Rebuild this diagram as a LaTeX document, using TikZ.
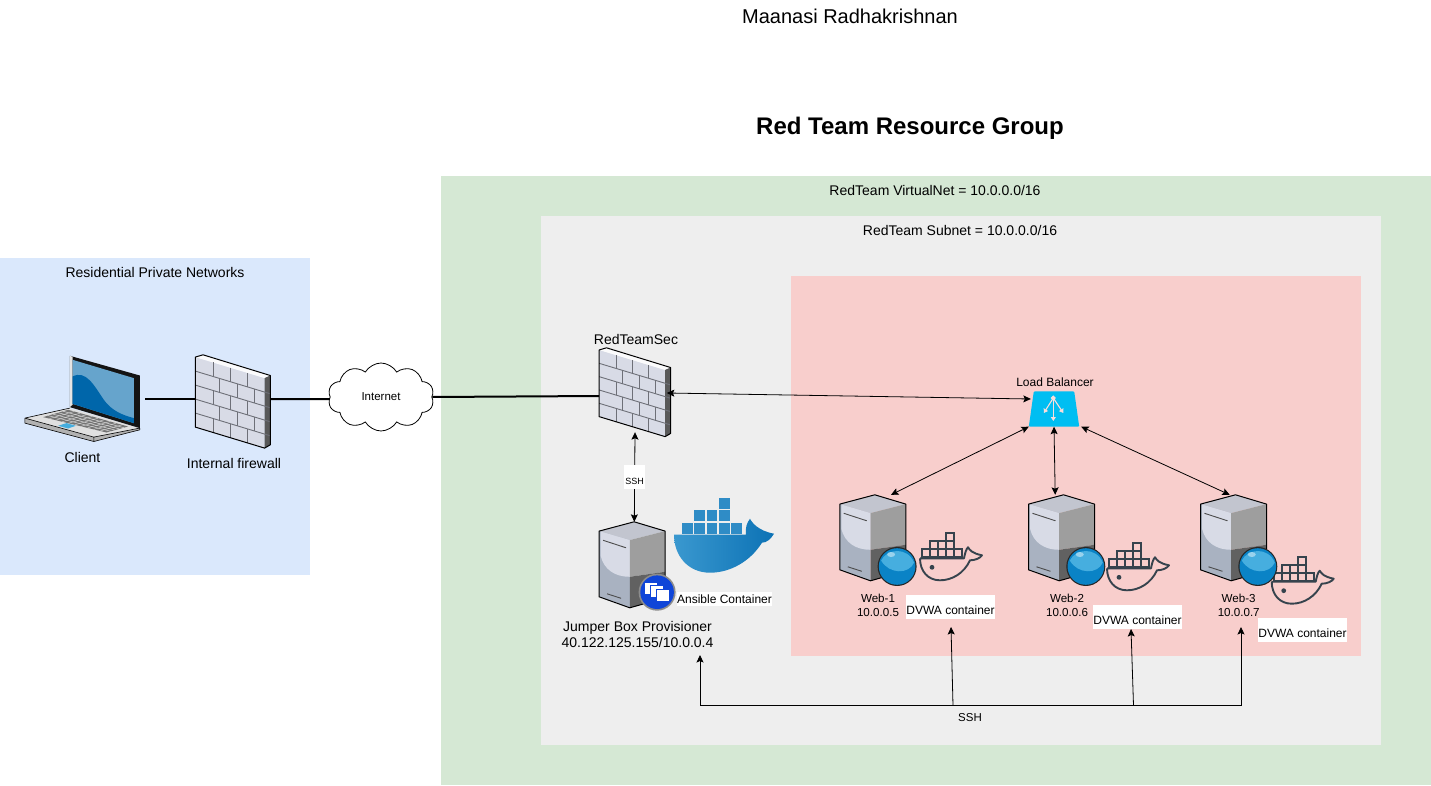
\documentclass[tikz,border=0pt]{standalone}
\usepackage{fontspec}
\setmainfont{Liberation Sans}
\usepackage{tikz}
\usetikzlibrary{arrows.meta}
\usetikzlibrary{shapes.symbols}
\definecolor{homeblue}{HTML}{DAE8FC}
\definecolor{vnetgreen}{HTML}{D5E8D4}
\definecolor{subnetgray}{HTML}{EEEEEE}
\definecolor{webpink}{HTML}{F8CECC}
\definecolor{lbcyan}{HTML}{00BEF2}
\definecolor{whaleink}{HTML}{36434D}
\definecolor{brickface}{HTML}{D8DBE6}
\definecolor{brickline}{HTML}{6E7078}
\definecolor{serverlow}{HTML}{A9B2C1}
\definecolor{balldeep}{HTML}{0A83C6}
\definecolor{balllight}{HTML}{46AEDF}
\definecolor{badgeblue}{HTML}{0F45D8}
\definecolor{whaleblock}{HTML}{2F8CC6}
\definecolor{whaleleft}{HTML}{3A98CF}
\definecolor{whaleright}{HTML}{0C72B5}
\definecolor{screenlight}{HTML}{66A4CC}
\definecolor{screendeep}{HTML}{0066AA}
\tikzset{
  txt/.style={font=\fontsize{#1}{16}\selectfont, inner sep=0pt, align=center},
  tag/.style={txt=#1, fill=white, text height=19.3pt, text depth=4.7pt},
  iconbox/.style={inner sep=0pt, minimum width=#1},
  link/.style={black, line width=.8pt, >={Stealth[length=7.5pt,width=7pt,inset=1.5pt]}},
  wire/.style={black, line width=2pt},
  pics/firewall/.style={code={
    \fill[brickface] (0,2.3) -- (69.3,23.3) -- (69.3,93.3) -- (0,72.3) -- cycle;
    \fill[white!90!brickface] (0,2.3) -- (7.7,0) -- (75,20.7) -- (69.3,23.3) -- cycle;
    \fill[black!65] (69.3,23.3) -- (75,20.7) -- (75,90) -- (69.3,93.3) -- cycle;
    \foreach \i in {1,2,3,4}
      \draw[brickline, line width=.9pt] (0,{2.3+14*\i}) -- (75,{25+14*\i});
    \foreach \i in {0,2,4}
      \foreach \x in {17.7,35,51.7}
        \draw[brickline, line width=.9pt] (\x,{2.3+14*\i+.303*\x}) -- ++(0,14);
    \foreach \i in {1,3}
      \foreach \x in {24.3,42,58.7}
        \draw[brickline, line width=.9pt] (\x,{2.3+14*\i+.303*\x}) -- ++(0,14);
    \draw[black, line width=1pt, line join=round] (0,2.3) -- (7.7,0) -- (75,20.7) -- (75,90) -- (69.3,93.3) -- (0,72.3) -- cycle;
  }},
  pics/server/.style={code={
    \fill[brickface!90!black] (35,0) -- (0,9.3) -- (30.7,18.3) -- (66,9.3) -- cycle;
    \fill[serverlow] (0,9.3) -- (30.7,18.3) -- (30.7,86) -- (0,75) -- cycle;
    \fill[brickface] (1.5,9.7) -- (30.7,18.3) -- (30.7,55) .. controls (16,55) and (5,48) .. (1.5,34) -- cycle;
    \fill[black!38] (30.7,18.3) -- (66,9.3) -- (66,50) -- (30.7,55) -- cycle;
    \fill[black!62] (30.7,55) -- (66,50) -- (66,76) -- (30.7,86) -- cycle;
    \draw[black!70, line width=.9pt] (4,18.5) -- (27,26) (8,72) -- (22,76.5);
    \draw[black, line width=1pt, line join=round] (35,0) -- (0,9.3) -- (0,75) -- (30.7,86) -- (66,76) -- (66,9.3) -- cycle;
  }},
  pics/webball/.style={code={
    \fill[black!85] (0,0) circle (19.5);
    \fill[balldeep] (0,0) circle (18.3);
    \fill[balllight] (-16,-6) .. controls (-10,-18) and (10,-20) .. (17,-4) .. controls (12,8) and (-8,8) .. (-16,-6) -- cycle;
    \fill[white!45!balllight] (-6,-12) ellipse (4 and 2.5);
  }},
  pics/jumpbadge/.style={code={
    \fill[black!45] (0,0) circle (18.5);
    \fill[badgeblue] (0,0) circle (16.8);
    \foreach \x/\y in {-13/-10,-7/-7,-1/-3}
      \draw[badgeblue, fill=white, line width=.9pt] (\x,\y) rectangle ++(13,12);
  }},
  pics/whaleline/.style={code={
    \foreach \x/\y in {2/16,10/16,18/16,26/16,34/16,10/8,18/8,26/8,26/0}
      \draw[whaleink, line width=1.7pt] (\x,\y) rectangle ++(8,8);
    \draw[whaleink, line width=1.9pt, line join=round] (0,25) -- (44,25) .. controls (45,20) and (46,16) .. (48,14) .. controls (50,17) and (52,20) .. (62,22) .. controls (60,25) and (55,27) .. (50,27) .. controls (44,40) and (32,47) .. (20,47) .. controls (8,47) and (0,38) .. (0,25);
    \fill[whaleink] (12,34) circle (2.4);
  }},
  pics/whalesolid/.style={code={
    \foreach \x/\y in {8/25,20.3/25,32.6/25,44.9/25,57.2/25,20.3/12.4,32.6/12.4,44.9/12.4,44.9/0}
      \fill[whaleblock] (\x,\y) rectangle ++(10.8,10.8);
    \shade[left color=whaleleft, right color=whaleright] (0,37) -- (72,37) .. controls (71,30) and (73,25) .. (76,21) .. controls (78,25) and (84,33) .. (100,36) .. controls (97,41) and (93,45) .. (88,45) .. controls (76,64) and (56,75) .. (36,75) .. controls (14,75) and (0,58) .. (0,37) -- cycle;
  }},
  pics/laptop/.style={code={
    \fill[black!30] (1,63.3) -- (70,82.3) -- (116,73.3) -- (116,75) -- (70,86.7) -- (1,68.3) -- cycle;
    \fill[black!12] (1,63.3) -- (46,53.3) -- (116,73.3) -- (70,82.3) -- cycle;
    \fill[black!55] (19.3,62.3) -- (44.3,55) -- (104.3,71.7) -- (82.7,77.7) -- cycle;
    \foreach \t in {.2,.4,.6,.8}
      \draw[black!15, line width=.5pt] ({19.3+25*\t},{62.3-7.3*\t}) -- ({82.7+21.6*\t},{77.7-6*\t});
    \foreach \t in {.1,.2,.3,.4,.5,.6,.7,.8,.9}
      \draw[black!15, line width=.4pt] ({19.3+63.4*\t},{62.3+15.4*\t}) -- ({44.3+60*\t},{55+16.7*\t});
    \fill[balllight] (34.3,71) -- (42.7,68.3) -- (52,71) -- (44.3,73.7) -- cycle;
    \draw[black, line width=.6pt, line join=round] (1,63.3) -- (46,53.3) (116,73.3) -- (70,82.3) (1,63.3) -- (1,68.3) -- (70,86.7) -- (116,75) -- (116,73.3) (1,63.3) -- (70,82.3) -- (70,86.7);
    \fill[black!92] (46,1) -- (116,20.7) -- (116,73.3) -- (46,52.3) -- cycle;
    \fill[black!10] (46,1) -- (48.7,2) -- (48.7,50) -- (46,52.3) -- cycle;
    \fill[screenlight] (48.7,5) -- (110,23.3) -- (110,68.3) -- (48.7,49) -- cycle;
    \fill[screendeep] (48.7,21.7) .. controls (62,15) and (70,30) .. (80,45) .. controls (88,56) and (98,60) .. (110,63.3) -- (110,68.3) -- (48.7,49) -- cycle;
  }},
}
\begin{document}
\begin{tikzpicture}[x=1pt,y=-1pt]
\useasboundingbox (0,0) rectangle (1431,786);
\fill[homeblue] (0,258) rectangle (310,575);
\fill[vnetgreen] (441,176) rectangle (1431,785);
\fill[subnetgray] (541,216) rectangle (1381,745);
\fill[webpink] (791,276) rectangle (1361,656);

\node[txt=20] (author) at (850,16) {Maanasi Radhakrishnan};
\node[txt=24, font=\fontsize{24}{28}\selectfont\bfseries] (title) at (910,128) {Red Team Resource Group};
\node[txt=14] (vnetlabel) at (935,190) {RedTeam VirtualNet = 10.0.0.0/16};
\node[txt=14] (subnetlabel) at (960,230) {RedTeam Subnet = 10.0.0.0/16};
\node[txt=14] (homelabel) at (155,272) {Residential Private Networks};

\node[iconbox=121, minimum height=92pt] (client) at (84.5,399) {};
\node[iconbox=75, minimum height=72pt] (fwa) at (233,399) {};
\node[iconbox=71.3, minimum height=72pt] (fwb) at (635,396) {};
\node[cloud, draw=black, fill=white, line width=.8pt, cloud puffs=10, cloud puff arc=120, aspect=1.55, inner sep=0pt, minimum width=106pt, minimum height=68pt, txt=11.5] (inet) at (381,397) {Internet};
\node[iconbox=66, minimum height=85pt] (jump) at (632.3,564.5) {};
\node[iconbox=66, minimum height=86pt] (weba) at (873,538) {};
\node[iconbox=66, minimum height=86pt] (webb) at (1061.7,538) {};
\node[iconbox=66, minimum height=86pt] (webc) at (1233.7,538) {};
\node[iconbox=50, minimum height=35pt] (lb) at (1054,409) {};

\pic at ([yshift=-2pt]client.north west) {laptop};
\pic at ([yshift=8pt]fwa.north west) {firewall};
\pic[scale=.952] at ([yshift=12pt]fwb.north west) {firewall};
\pic at (jump.north west) {server};
\pic at ([shift={(58,70.4)}]jump.north west) {jumpbadge};
\pic at (674,497.7) {whalesolid};
\pic at (920,533.3) {whaleline};
\pic at (1107,543.3) {whaleline};
\pic at (1271.7,556.7) {whaleline};
\foreach \web in {weba,webb,webc} {
  \pic at (\web.north west) {server};
  \pic at ([shift={(57.3,71.7)}]\web.north west) {webball};
}
\fill[lbcyan, rounded corners=1pt] (lb.south west) -- ([xshift=5pt]lb.north west) -- ([xshift=-5pt]lb.north east) -- (lb.south east) -- cycle;
\draw[draw=webpink!70!white, fill=webpink!70!white, line width=1.1pt, >={Stealth[length=4pt,width=5pt,inset=0pt]}]
  ([shift={(-.7,-11)}]lb.center) circle (1.8)
  ([shift={(-.7,-11)}]lb.center) edge[->] ++(0,23) edge[->] ++(-9.5,15) edge[->] ++(10,15);

\node[txt=14] (clientlabel) at (82.5,457) {Client};
\node[txt=14] (fwalabel) at (234,463) {Internal firewall};
\node[txt=14] (fwblabel) at (636,339) {RedTeamSec};
\node[txt=14] (jumplabel) at (637.5,634.5) {Jumper Box Provisioner\\40.122.125.155/10.0.0.4};
\node[txt=12, fill=white, minimum height=14pt, minimum width=95pt] (ansible) at (724.5,599) {Ansible Container};
\node[txt=12] (lblabel) at (1055,382) {Load Balancer};
\node[txt=11.6] (webalabel) at (878,605.7) {Web-1\\[-2pt]10.0.0.5};
\node[txt=11.6] (webblabel) at (1067,605.7) {Web-2\\[-2pt]10.0.0.6};
\node[txt=11.6] (webclabel) at (1238.7,605.7) {Web-3\\[-2pt]10.0.0.7};
\node[tag=12, minimum width=89pt] (dvwaa) at (950.5,607) {DVWA container};
\node[tag=12, minimum width=89pt] (dvwab) at (1137.5,617) {DVWA container};
\node[tag=12, minimum width=89pt] (dvwac) at (1302.5,630) {DVWA container};

\coordinate (busleft) at (700,705.5);
\coordinate (busa) at (953,705.5);
\coordinate (busb) at (1133.5,705.5);
\coordinate (busc) at (1241,705.5);
\coordinate (tipleft) at (700,655);
\coordinate (tipa) at (951,627);
\coordinate (tipb) at (1131,629);
\coordinate (tipc) at (1241,627);

\draw[wire] (client.east) -- (fwa.west);
\draw[wire] (fwa.east) -- ([yshift=-2pt]inet.west);
\draw[wire] (inet.east) -- (fwb.west);
\draw[link, <->] ([shift={(-4,-3)}]fwb.east) -- ([shift={(2,-10)}]lb.west);
\draw[link, <->] (fwb.south) -- node[tag=9, minimum width=21pt] (sshfw) {SSH} ([xshift=2pt]jump.north);
\draw[link, <->] (lb.south west) -- ([xshift=18pt]weba.north);
\draw[link, <->] (lb.south) -- ([xshift=-6.5pt]webb.north);
\draw[link, <->] ([xshift=2pt]lb.south east) -- ([xshift=-4pt]webc.north);
\draw[link, ->] (busc) -- (busleft) -- (tipleft);
\draw[link, ->] (busc) -- (tipc);
\draw[link, ->] (busa) -- (tipa);
\draw[link, ->] (busb) -- (tipb);
\node[txt=11.5] (sshbus) at (970,718) {SSH};
\end{tikzpicture}
\end{document}
